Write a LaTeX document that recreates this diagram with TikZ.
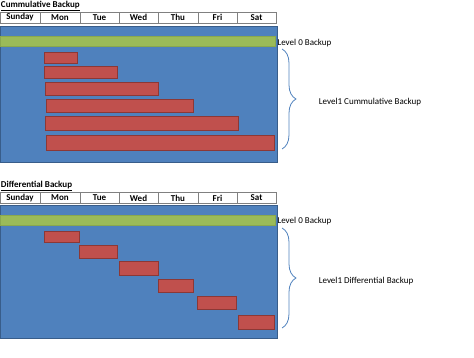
\documentclass[tikz,border=0pt]{standalone}
\usepackage{fontspec}
\setmainfont{Carlito}
\usetikzlibrary{decorations.pathreplacing}
\definecolor{panelblue}{HTML}{4F81BD}
\definecolor{paneledge}{HTML}{385D8A}
\definecolor{greenfill}{HTML}{9BBB59}
\definecolor{greenedge}{HTML}{8AA84E}
\definecolor{redfill}{HTML}{C0504D}
\definecolor{rededge}{HTML}{8C3836}
\definecolor{gridgray}{HTML}{808080}
\begin{document}
\begin{tikzpicture}[x=1pt,y=-1pt,
  every node/.style={inner sep=0pt,outer sep=0pt},
  txt/.style={font=\fontsize{9}{10}\selectfont},
  title/.style={font=\fontsize{9}{10}\selectfont\bfseries,anchor=south west},
  daycell/.style={draw=gridgray,line width=0.6pt,anchor=north west,minimum height=11pt,font=\fontsize{9}{10}\selectfont\bfseries},
  panel/.style={draw=paneledge,fill=panelblue,line width=1pt,anchor=north west},
  greenbar/.style={draw=greenedge,fill=greenfill,line width=0.8pt,anchor=north west,minimum height=10pt,minimum width=275pt},
  redbar/.style={draw=rededge,fill=redfill,line width=1pt,anchor=north west},
  bracket/.style={draw=panelblue,line width=0.8pt,decorate,decoration={brace,amplitude=14pt}}
]
\useasboundingbox (0,0) rectangle (474,358);

% ---------------- Cumulative panel ----------------
\node[title] (t1) at (1,11) {\underline{Cummulative Backup}};
\node[daycell,minimum width=40pt] (a1) at (0,12) {Sunday};
\node[daycell,minimum width=40pt] (a2) at (40,12) {Mon};
\node[daycell,minimum width=39pt] (a3) at (80,12) {Tue};
\node[daycell,minimum width=39pt] (a4) at (119,12) {Wed};
\node[daycell,minimum width=40pt] (a5) at (158,12) {Thu};
\node[daycell,minimum width=39pt] (a6) at (198,12) {Fri};
\node[daycell,minimum width=39pt] (a7) at (237,12) {Sat};

\node[panel,minimum width=277pt,minimum height=136pt] (p1) at (0,26.5) {};
\node[greenbar] (g1) at (0,36) {};
\node[redbar,minimum width=33pt,minimum height=11pt] (c1) at (44.5,53) {};
\node[redbar,minimum width=73pt,minimum height=12pt] (c2) at (44.5,67) {};
\node[redbar,minimum width=113pt,minimum height=13pt] (c3) at (45.5,83) {};
\node[redbar,minimum width=147pt,minimum height=13pt] (c4) at (46.5,100) {};
\node[redbar,minimum width=193pt,minimum height=14pt] (c5) at (45.5,117) {};
\node[redbar,minimum width=228pt,minimum height=15pt] (c6) at (46.5,136) {};

\node[txt,anchor=west] (l01) at (277.5,43) {Level 0 Backup};
\coordinate (b1top) at (282,49);
\coordinate (b1bot) at (282,149);
\draw[bracket] (b1top) -- (b1bot);
\node[txt] (l11) at (370,102) {Level1 Cummulative Backup};

% ---------------- Differential panel ----------------
\node[title] (t2) at (1,191) {\underline{Differential Backup}};
\node[daycell,minimum width=40pt] (d1) at (0,192.5) {Sunday};
\node[daycell,minimum width=40pt] (d2) at (40,192.5) {Mon};
\node[daycell,minimum width=39pt] (d3) at (80,192.5) {Tue};
\node[daycell,minimum width=39pt] (d4) at (119,192.5) {Wed};
\node[daycell,minimum width=40pt] (d5) at (158,192.5) {Thu};
\node[daycell,minimum width=39pt] (d6) at (198,192.5) {Fri};
\node[daycell,minimum width=39pt] (d7) at (237,192.5) {Sat};

\node[panel,minimum width=277pt,minimum height=132pt] (p2) at (0,206) {};
\node[greenbar] (g2) at (0,215) {};
\node[redbar,minimum width=35pt,minimum height=11pt] (e1) at (44.5,232) {};
\node[redbar,minimum width=38pt,minimum height=13pt] (e2) at (79,245.5) {};
\node[redbar,minimum width=39pt,minimum height=13pt] (e3) at (119,262) {};
\node[redbar,minimum width=35pt,minimum height=13pt] (e4) at (158.5,279) {};
\node[redbar,minimum width=39pt,minimum height=13pt] (e5) at (197.5,296) {};
\node[redbar,minimum width=36pt,minimum height=14pt] (e6) at (238,315) {};

\node[txt,anchor=west] (l02) at (277.5,221) {Level 0 Backup};
\coordinate (b2top) at (282,228);
\coordinate (b2bot) at (282,328);
\draw[bracket] (b2top) -- (b2bot);
\node[txt] (l12) at (366,281) {Level1 Differential Backup};
\end{tikzpicture}
\end{document}
